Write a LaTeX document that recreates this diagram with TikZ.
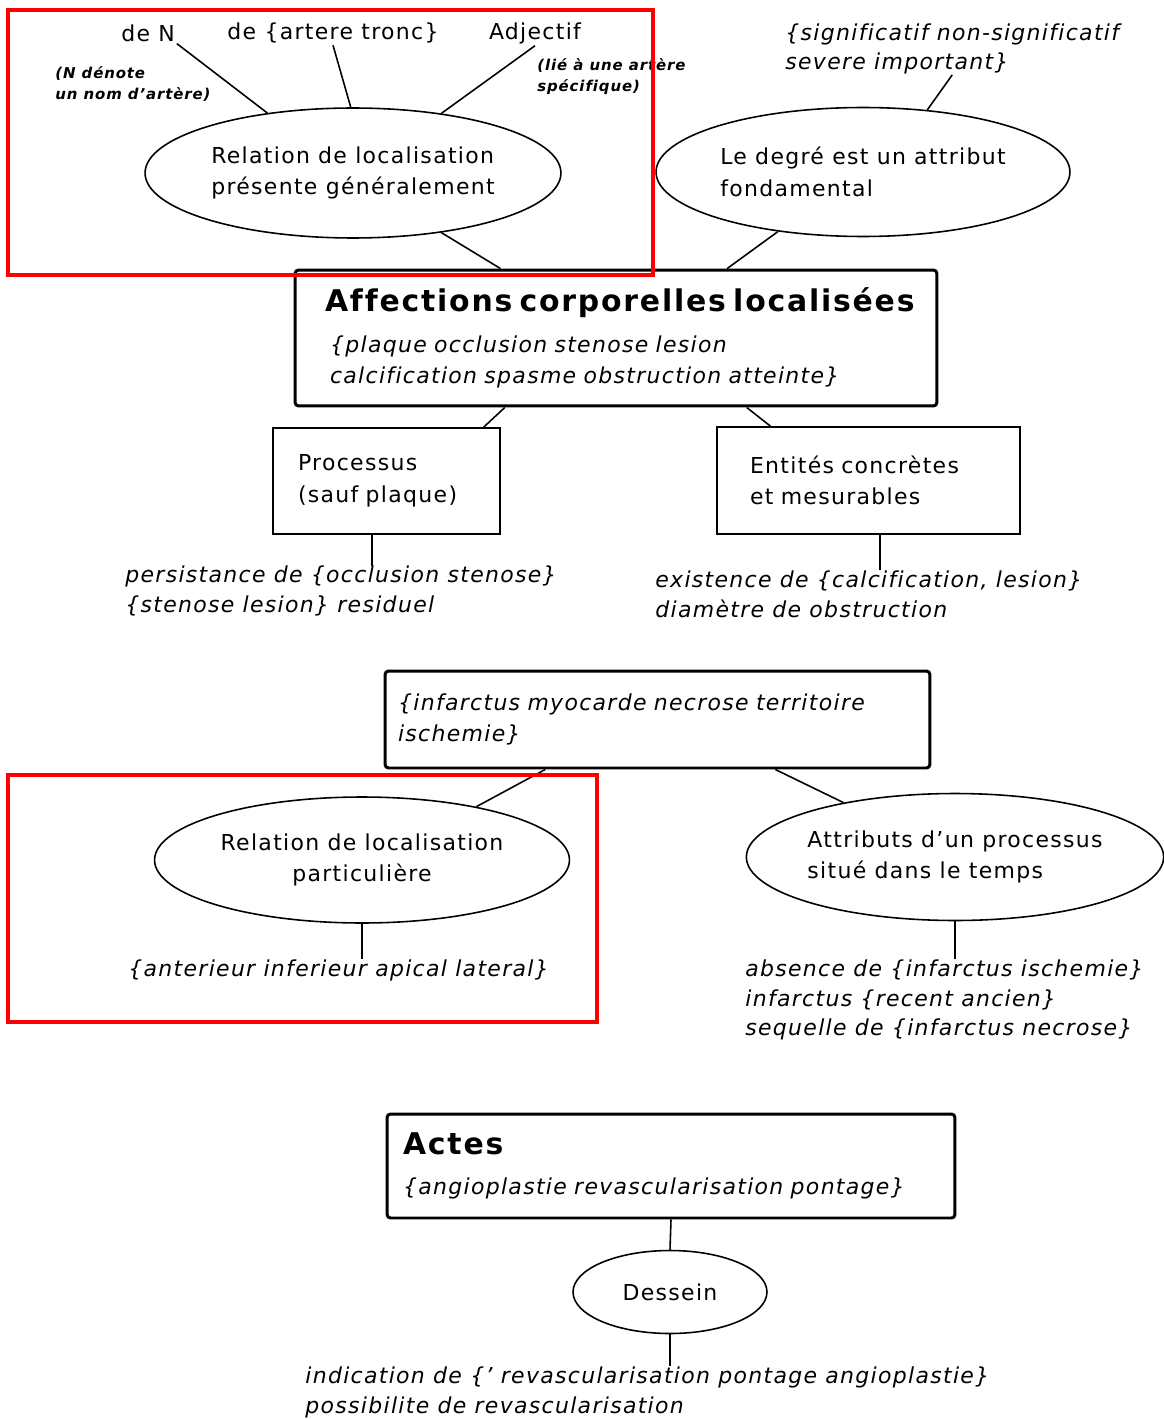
\documentclass[tikz,border=0pt]{standalone}
\usepackage{fontspec}
\setmainfont{DejaVu Sans}[LetterSpace=6, Ligatures={TeX,NoCommon}]
\usetikzlibrary{shapes.geometric, positioning, calc}

\begin{document}
\begin{tikzpicture}[x=0.02cm, y=-0.02cm,
    rel/.style={draw, ellipse, line width=0.9pt, align=left, inner sep=0pt, font=\fontsize{12.5}{18}\selectfont},
    bigbox/.style={draw, rounded corners=2pt, line width=1.7pt, align=left, inner ysep=0pt, font=\fontsize{12.5}{18}\selectfont},
    smallbox/.style={draw, line width=1pt, align=left, inner ysep=0pt, font=\fontsize{12.5}{18}\selectfont},
    gloss/.style={align=left, anchor=west, inner sep=0pt, font=\itshape\fontsize{12.5}{17}\selectfont},
    note/.style={align=left, anchor=west, inner sep=0pt, font=\bfseries\itshape\fontsize{8.5}{12}\selectfont},
    word/.style={inner sep=1pt, font=\fontsize{12.5}{18}\selectfont},
    link/.style={line width=0.9pt}]

    \useasboundingbox (0,0) rectangle (1163,1419);

    \node[word] (deN) at (148,33) {de N};
    \node[word] (deArt) at (333,33) {de \{artere tronc\}};
    \node[word] (adj) at (535,33) {Adjectif};
    \node[note] (noteN) at (55,84) {(N dénote\\un nom d'artère)};
    \node[note] (noteLie) at (537,77) {(lié à une artère\\spécifique)};
    \node[gloss] (sig) at (785,49) {\{significatif non-significatif\\severe important\}};

    \node[rel, minimum width=8.32cm, minimum height=2.6cm] (relgen) at (353,173) {Relation de localisation\\présente généralement};
    \node[rel, minimum width=8.28cm, minimum height=2.58cm] (degre) at (863,172) {Le degré est un attribut\\fondamental};

    \node[bigbox, minimum height=2.72cm, inner xsep=0.4cm, text width=12.04cm] (affections) at (616,338)
        {{\bfseries\fontsize{17}{18}\selectfont\hspace*{0.2cm}Affections corporelles localisées}\\[5pt]
         {\itshape\hspace*{0.3cm}\{plaque occlusion stenose lesion}\\
         {\itshape\hspace*{0.3cm}calcification spasme obstruction atteinte\}}};

    \node[smallbox, minimum height=2.12cm, inner xsep=0.5cm, text width=3.54cm] (processus) at (386.5,481) {Processus\\(sauf plaque)};
    \node[smallbox, minimum height=2.14cm, inner xsep=0.66cm, text width=4.74cm] (entites) at (868.5,480.5) {Entités concrètes\\et mesurables};
    \node[gloss] (persist) at (125,591) {persistance de \{occlusion stenose\}\\\{stenose lesion\} residuel};
    \node[gloss] (exist) at (655,594) {existence de \{calcification, lesion\}\\diamètre de obstruction};

    \node[bigbox, minimum height=1.94cm, inner xsep=0.26cm, text width=10.38cm] (infarctus) at (657.5,719.5)
        {{\itshape \{infarctus myocarde necrose territoire}\\{\itshape ischemie\}}};

    \node[rel, align=center, minimum width=8.3cm, minimum height=2.52cm] (relpart) at (362,860) {Relation de localisation\\particulière};
    \node[rel, minimum width=8.32cm, minimum height=2.54cm] (attributs) at (955,857) {Attributs d'un processus\\situé dans le temps};
    \node[gloss] (loc) at (128,970) {\{anterieur inferieur apical lateral\}};
    \node[gloss] (absn) at (745,1000) {absence de \{infarctus ischemie\}\\infarctus \{recent ancien\}\\sequelle de \{infarctus necrose\}};

    \node[bigbox, minimum height=2.08cm, inner xsep=0.32cm, text width=10.72cm] (actes) at (671,1166)
        {{\bfseries\fontsize{17}{18}\selectfont Actes}\\[5pt]
         {\itshape \{angioplastie revascularisation pontage\}}};
    \node[rel, minimum width=3.88cm, minimum height=1.66cm] (dessein) at (670,1292) {Dessein};
    \node[gloss] (indic) at (305,1392) {indication de \{' revascularisation pontage angioplastie\}\\possibilite de revascularisation};

    \draw[link] (deN.south east) -- (relgen.145.7);
    \draw[link] (deArt.south) -- (relgen.92);
    \draw[link] (adj.south) -- (relgen.34.6);
    \draw[link] (sig.south) -- (degre.44.6);
    \draw[link] (relgen.-34.4) -- (affections.149.6);
    \draw[link] (degre.215.6) -- (affections.32.7);
    \draw[link] (affections.212.2) -- (processus.29.5);
    \draw[link] (affections.-28.5) -- (entites.151.5);
    \draw[link] (processus.-105) -- (processus.-105 |- persist.north);
    \draw[link] (entites.-78) -- (entites.-78 |- exist.north);
    \draw[link] (infarctus.-156.1) -- (relpart.25.8);
    \draw[link] (infarctus.-23.3) -- (attributs.154);
    \draw[link] (relpart.south) -- (relpart.south |- loc.north);
    \draw[link] (attributs.south) -- (attributs.south |- absn.north);
    \draw[link] (actes.south) -- (dessein.north);
    \draw[link] (dessein.south) -- (dessein.south |- indic.north);

    \draw[red, line width=2.3pt] (8,10) rectangle (653,275);
    \draw[red, line width=2.3pt] (8,775) rectangle (597,1022);

\end{tikzpicture}
\end{document}
